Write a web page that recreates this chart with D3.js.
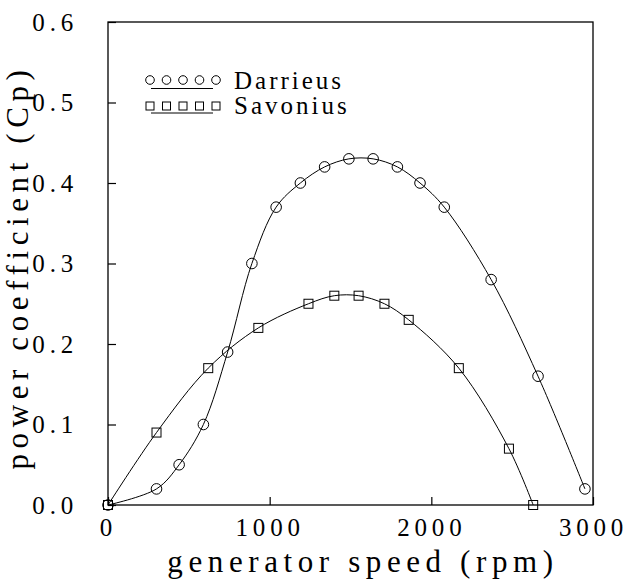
<!DOCTYPE html>
<html>
<head>
<meta charset="utf-8">
<script src="https://cdn.jsdelivr.net/npm/d3@7"></script>
<style>
  body { margin: 0; background: #fff; }
  svg text { font-family: "Liberation Serif", "DejaVu Serif", "Noto Serif", "Times New Roman", serif; fill: #000; }
</style>
</head>
<body>
<svg id="chart" width="629" height="584"></svg>
<script>
// values
const speedDarrieus = [0, 300, 440, 590, 740, 890, 1040, 1190, 1340, 1490, 1640, 1790, 1930, 2080, 2370, 2660, 2950];
const cpDarrieus = [0, 0.02, 0.05, 0.10, 0.19, 0.30, 0.37, 0.40, 0.42, 0.43, 0.43, 0.42, 0.40, 0.37, 0.28, 0.16, 0.02];
const speedSavonius = [0, 300, 620, 930, 1240, 1400, 1550, 1710, 1860, 2170, 2480, 2630];
const cpSavonius = [0, 0.09, 0.17, 0.22, 0.25, 0.26, 0.26, 0.25, 0.23, 0.17, 0.07, 0];
const xTicks = [0, 1000, 2000, 3000];
const yTicks = [0, 0.1, 0.2, 0.3, 0.4, 0.5, 0.6];
const seriesNames = ['Darrieus', 'Savonius'];

const FONT = '"Liberation Serif", "DejaVu Serif", "Noto Serif", "Times New Roman", serif';

const svg = d3.select('#chart');
const margin = {left: 108, right: 36, top: 22, bottom: 79};
const W = 629, H = 584;

const x = d3.scaleLinear().domain([0, 3000]).range([margin.left, W - margin.right]);
const y = d3.scaleLinear().domain([0, 0.6]).range([H - margin.bottom, margin.top]);

// axes: ticks point inward, labels pushed out
const gx = svg.append('g')
  .attr('transform', `translate(0,${y(0)})`)
  .call(d3.axisBottom(x).tickValues(xTicks).tickSizeInner(-8).tickSizeOuter(0).tickPadding(13).tickFormat(d3.format('d')));
const gy = svg.append('g')
  .attr('transform', `translate(${x(0)},0)`)
  .call(d3.axisLeft(y).tickValues(yTicks).tickSizeInner(-8).tickSizeOuter(0).tickPadding(30).tickFormat(d3.format('.1f')));

[gx, gy].forEach(g => {
  g.attr('font-family', FONT);
  g.select('.domain').remove();
  g.selectAll('line').attr('stroke', '#000').attr('stroke-width', 1.2);
  g.selectAll('text')
    .style('font-family', FONT)
    .attr('font-size', 25)
    .attr('letter-spacing', 4.8)
    .attr('fill', '#000');
});

// frame
svg.append('rect')
  .attr('x', x(0)).attr('y', y(0.6))
  .attr('width', x(3000) - x(0)).attr('height', y(0) - y(0.6))
  .attr('fill', 'none').attr('stroke', '#000').attr('stroke-width', 1.3);

// axis titles
svg.append('text')
  .attr('x', 363).attr('y', 572)
  .attr('text-anchor', 'middle')
  .style('font-family', FONT)
  .attr('font-size', 31)
  .attr('letter-spacing', 5.6)
  .text('generator speed (rpm)');
svg.append('text')
  .attr('transform', 'translate(28,267) rotate(-90)')
  .attr('text-anchor', 'middle')
  .style('font-family', FONT)
  .attr('font-size', 31)
  .attr('letter-spacing', 5.6)
  .text('power coefficient (Cp)');

const line = d3.line()
  .x(d => x(d[0]))
  .y(d => y(d[1]))
  .curve(d3.curveCatmullRom.alpha(0.5));

const darrieus = d3.zip(speedDarrieus, cpDarrieus);
const savonius = d3.zip(speedSavonius, cpSavonius);

const plot = svg.append('g');
[darrieus, savonius].forEach(data => {
  plot.append('path')
    .datum(data)
    .attr('d', line)
    .attr('fill', 'none')
    .attr('stroke', '#000')
    .attr('stroke-width', 1);
});

plot.selectAll('.circ')
  .data(darrieus)
  .enter()
  .append('circle')
  .attr('class', 'circ')
  .attr('cx', d => x(d[0]))
  .attr('cy', d => y(d[1]))
  .attr('r', 5.3)
  .attr('fill', 'none')
  .attr('stroke', '#000')
  .attr('stroke-width', 1);

const sq = 9;
plot.selectAll('.sq')
  .data(savonius)
  .enter()
  .append('rect')
  .attr('class', 'sq')
  .attr('x', d => x(d[0]) - sq / 2)
  .attr('y', d => y(d[1]) - sq / 2)
  .attr('width', sq)
  .attr('height', sq)
  .attr('fill', 'none')
  .attr('stroke', '#000')
  .attr('stroke-width', 1);

// legend: five symbols over a line sample, then the name
const legend = svg.append('g');
const legendRows = [
  {name: seriesNames[0], symY: 80, lineY: 88.5, textY: 88.5, shape: 'circle'},
  {name: seriesNames[1], symY: 106, lineY: 113, textY: 114, shape: 'square'}
];
const symXs = d3.range(5).map(i => 150 + i * 16.5);
legendRows.forEach(row => {
  legend.append('line')
    .attr('x1', 151).attr('x2', 213)
    .attr('y1', row.lineY).attr('y2', row.lineY)
    .attr('stroke', '#000').attr('stroke-width', 1);
  symXs.forEach(sx => {
    if (row.shape === 'circle') {
      legend.append('circle')
        .attr('cx', sx).attr('cy', row.symY).attr('r', 4.3)
        .attr('fill', 'none').attr('stroke', '#000').attr('stroke-width', 1);
    } else {
      legend.append('rect')
        .attr('x', sx - 4).attr('y', row.symY - 4).attr('width', 8).attr('height', 8)
        .attr('fill', 'none').attr('stroke', '#000').attr('stroke-width', 1);
    }
  });
  legend.append('text')
    .attr('x', 234).attr('y', row.textY)
    .style('font-family', FONT)
    .attr('font-size', 25)
    .attr('letter-spacing', 3)
    .text(row.name);
});
</script>
</body>
</html>
